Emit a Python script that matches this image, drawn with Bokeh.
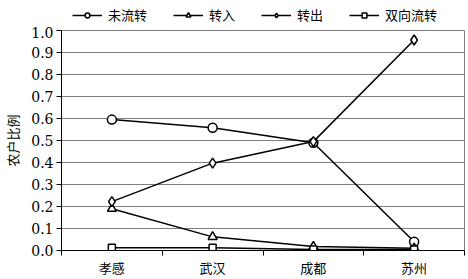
from bokeh.plotting import figure
from bokeh.layouts import column
from bokeh.models import (FixedTicker, PrintfTickFormatter, Range1d, Legend, LegendItem)
from bokeh.embed import file_html
from bokeh.resources import INLINE

cities = ["孝感", "武汉", "成都", "苏州"]
series_names = ["未流转", "转入", "转出", "双向流转"]
weiliuzhuan = [0.595, 0.558, 0.490, 0.040]
zhuanru = [0.190, 0.062, 0.018, 0.010]
zhuanchu = [0.222, 0.397, 0.495, 0.957]
shuangxiang = [0.013, 0.013, 0.005, 0.005]
y_ticks = [0.0, 0.1, 0.2, 0.3, 0.4, 0.5, 0.6, 0.7, 0.8, 0.9, 1.0]

all_values = [weiliuzhuan, zhuanru, zhuanchu, shuangxiang]
markers = ["circle", "triangle", "diamond", "square"]
sizes = [9, 9, 10, 7]

xs = [i + 0.5 for i in range(len(cities))]

CJK = "Noto Sans CJK SC"
NUM = "DejaVu Serif"

# ---- legend strip (its data sits outside its visible range) ----
lg = figure(width=468, height=26, output_backend="svg", toolbar_location=None,
            x_axis_type=None, y_axis_type=None,
            x_range=Range1d(0, len(cities)), y_range=Range1d(5, 6),
            min_border=0)
lg.outline_line_color = None
lg.xgrid.visible = False
lg.ygrid.visible = False
lg.background_fill_color = "white"
lg.border_fill_color = "white"

# ---- main plot ----
p = figure(width=468, height=253, output_backend="svg", toolbar_location=None,
           x_range=Range1d(0, len(cities)), y_range=Range1d(0, 1),
           min_border_left=57, min_border_right=4, min_border_top=4,
           min_border_bottom=26)
p.background_fill_color = "white"
p.border_fill_color = "white"
p.outline_line_color = "#7f7f7f"
p.outline_line_width = 1

p.xaxis.ticker = FixedTicker(ticks=xs, minor_ticks=list(range(len(cities) + 1)))
p.xaxis.major_label_overrides = {x: c for x, c in zip(xs, cities)}
p.xaxis.major_tick_line_color = None
p.xaxis.major_tick_out = 5
p.xaxis.major_tick_in = 0
p.xaxis.minor_tick_out = 5
p.xaxis.minor_tick_in = 0
p.xaxis.minor_tick_line_color = "black"
p.xaxis.axis_line_color = "black"
p.xaxis.major_label_text_font = CJK
p.xaxis.major_label_text_font_size = "13px"
p.xaxis.major_label_text_color = "black"
p.xaxis.major_label_standoff = 2

p.yaxis.ticker = FixedTicker(ticks=y_ticks, minor_ticks=[])
p.yaxis.formatter = PrintfTickFormatter(format="%.1f")
p.yaxis.major_tick_out = 5
p.yaxis.major_tick_in = 0
p.yaxis.major_tick_line_color = "black"
p.yaxis.axis_line_color = "black"
p.yaxis.major_label_text_font = NUM
p.yaxis.major_label_text_font_size = "14px"
p.yaxis.major_label_text_color = "black"
p.yaxis.major_label_standoff = 3
p.yaxis.axis_label = "农户比例"
p.yaxis.axis_label_text_font = CJK
p.yaxis.axis_label_text_font_style = "normal"
p.yaxis.axis_label_text_font_size = "13px"
p.yaxis.axis_label_text_color = "black"
p.yaxis.axis_label_standoff = 6

p.xgrid.grid_line_color = None
p.ygrid.grid_line_color = "#7f7f7f"
p.ygrid.grid_line_width = 1

items = []
for name, vals, mk, sz in zip(series_names, all_values, markers, sizes):
    p.line(xs, vals, line_color="black", line_width=1.5)
    p.scatter(xs, vals, marker=mk, size=sz, fill_color="white",
              line_color="black", line_width=1.5)
    ln = lg.line(xs, vals, line_color="black", line_width=1.5)
    sc = lg.scatter(xs, vals, marker=mk, size=sz, fill_color="white",
                    line_color="black", line_width=1.5)
    items.append(LegendItem(label=name, renderers=[ln, sc]))

legend = Legend(items=items, orientation="horizontal", location=(11, 2),
                glyph_width=30, glyph_height=12, label_standoff=6, spacing=26,
                padding=0, margin=0, border_line_color=None,
                background_fill_alpha=0,
                label_text_font=CJK, label_text_font_size="13px",
                label_text_color="black")
lg.add_layout(legend, "center")

layout = column(lg, p, spacing=0)
open("out.html", "w").write(file_html(layout, INLINE))
